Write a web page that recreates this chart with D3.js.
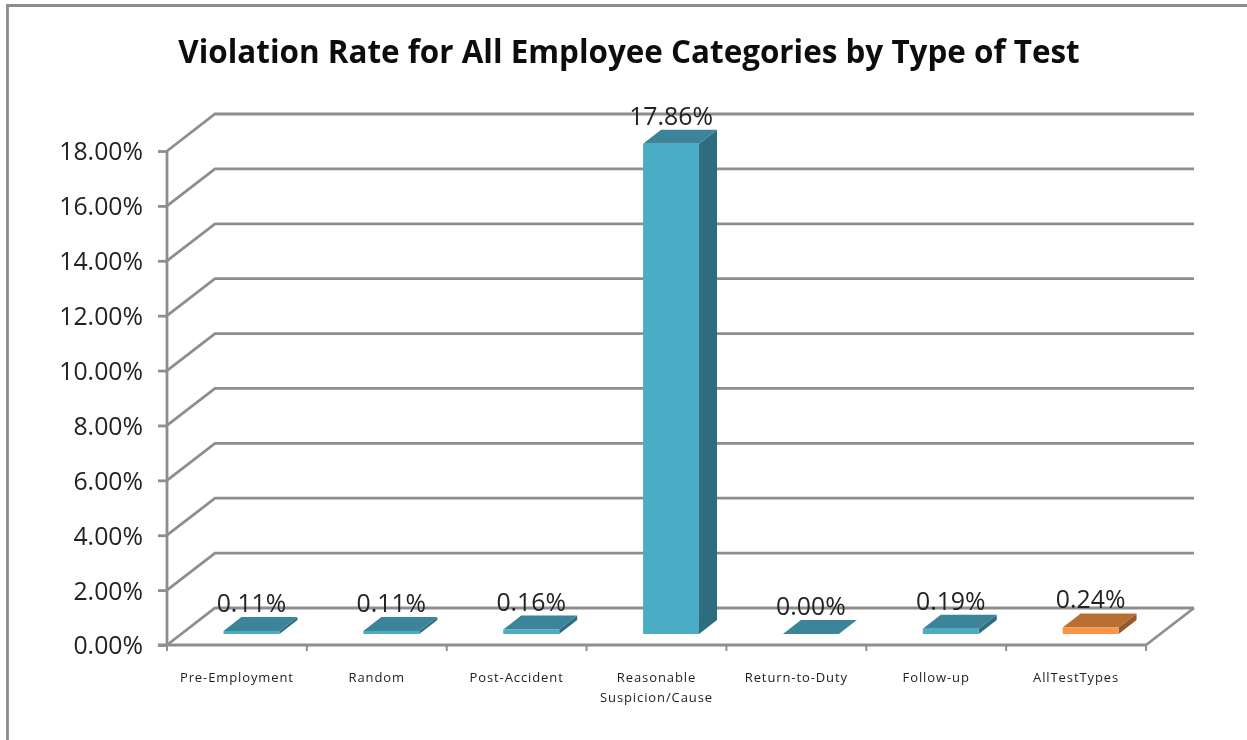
<!DOCTYPE html>
<html><head><meta charset="utf-8">
<script src="https://cdn.jsdelivr.net/npm/d3@7"></script>
<style>
html,body{margin:0;padding:0;background:#fff}
svg{display:block}
text{font-family:"Open Sans","Noto Sans",sans-serif;fill:#222}
</style></head><body><div id="chart"></div>
<script>
const categories = ["Pre-Employment","Random","Post-Accident","Reasonable Suspicion/Cause","Return-to-Duty","Follow-up","AllTestTypes"];
const values = [0.11,0.11,0.16,17.86,0.00,0.19,0.24];
const valueLabels = ["0.11%","0.11%","0.16%","17.86%","0.00%","0.19%","0.24%"];
const tickValues = [0,2,4,6,8,10,12,14,16,18];
const titleText = "Violation Rate for All Employee Categories by Type of Test";
const blue = {front:"#4bacc6",top:"#3a8499",side:"#2f6d7f"};
const orange = {front:"#f79646",top:"#b87033",side:"#97592a"};

const W=1247,H=740;
const L=167,R=1146,B=645,T=151;
const wallDx=48,wallDy=-37;      // depth of the chart box
const barDx=18,barDy=-14,barLift=11; // depth of a bar, lift off the front edge

const svg=d3.select("#chart").append("svg").attr("width",W).attr("height",H);
const defs=svg.append("defs");
defs.append("filter").attr("id","soft").attr("x","-5%").attr("y","-5%").attr("width","110%").attr("height","110%")
  .append("feGaussianBlur").attr("stdDeviation",0.55);
const root=svg.append("g").attr("filter","url(#soft)");

const y=d3.scaleLinear().domain([0,18]).range([B,T]);
const slot=d3.scaleBand().domain(categories).range([L,R]);

// outer frame
root.append("path").attr("d",`M7.5,${H} V5.5 H${W}`).attr("fill","none").attr("stroke","#8c8c8c").attr("stroke-width",2.8);

// title
root.append("text").attr("x",629).attr("y",63).attr("text-anchor","middle")
  .attr("font-size",31.4).attr("font-weight",700).style("fill","#111").text(titleText);

// walls: diagonals and back gridlines
const grid=root.append("g").attr("fill","none").attr("stroke","#8e8e8e").attr("stroke-width",2.8);
grid.selectAll("path").data(tickValues).join("path")
  .attr("d",d=>{
    const p=d3.path();
    p.moveTo(L,y(d)); p.lineTo(L+wallDx,y(d)+wallDy); p.lineTo(R+wallDx,y(d)+wallDy);
    return p.toString();
  });
grid.append("line").attr("x1",R).attr("y1",B).attr("x2",R+wallDx).attr("y2",B+wallDy);

// axes
const yAxis=d3.axisLeft(y).tickValues(tickValues).tickSize(9).tickPadding(15)
  .tickFormat(d=>d3.format(".2f")(d)+"%");
const ya=root.append("g").attr("transform",`translate(${L},0)`).call(yAxis);
ya.selectAll("path,line").attr("stroke","#8e8e8e").attr("stroke-width",2.8);
ya.select(".domain").attr("d",`M0,${T}V${B}`);
ya.selectAll("text").attr("font-size",24.8).style("font-family",'"Open Sans","Noto Sans",sans-serif').style("fill","#222").attr("dy","0.36em");

const xa=root.append("g").attr("transform",`translate(0,${B})`);
xa.append("line").attr("x1",L-9).attr("x2",R).attr("stroke","#8e8e8e").attr("stroke-width",2.8);
xa.selectAll("line.t").data(categories.concat(["end"])).join("line").attr("class","t")
  .attr("x1",(d,i)=>L+i*slot.step()).attr("x2",(d,i)=>L+i*slot.step())
  .attr("y1",0).attr("y2",6).attr("stroke","#8e8e8e").attr("stroke-width",2);

// bars
const barG=root.selectAll("g.bar").data(categories).join("g").attr("class","bar");
barG.each(function(c,i){
  const g=d3.select(this);
  const col=i===categories.length-1?orange:blue;
  const x0=slot(c)+slot.step()*0.404, w=slot.step()*0.4;
  const base=B-barLift;
  const top=base-(y(0)-y(values[i]));
  const poly=(pts,f)=>g.append("polygon").attr("points",pts.map(p=>p.join(",")).join(" ")).attr("fill",f);
  poly([[x0+w,base],[x0+w+barDx,base+barDy],[x0+w+barDx,top+barDy],[x0+w,top]],col.side);
  poly([[x0,top],[x0+barDx,top+barDy],[x0+w+barDx,top+barDy],[x0+w,top]],col.top);
  poly([[x0,base],[x0+w,base],[x0+w,top],[x0,top]],col.front);
  g.append("text").attr("x",x0+w/2).attr("y",top-19).attr("text-anchor","middle")
    .attr("font-size",24.8).text(valueLabels[i]);
});

// category labels
const lines={"Reasonable Suspicion/Cause":["Reasonable","Suspicion/Cause"]};
categories.forEach(c=>{
  const cx=slot(c)+slot.step()/2;
  const t=root.append("text").attr("x",cx).attr("y",682)
    .attr("text-anchor","middle").attr("font-size",13).style("letter-spacing","0.9px");
  (lines[c]||[c]).forEach((s,i)=>t.append("tspan").attr("x",cx).attr("dy",i?20:0).text(s));
});
</script></body></html>
